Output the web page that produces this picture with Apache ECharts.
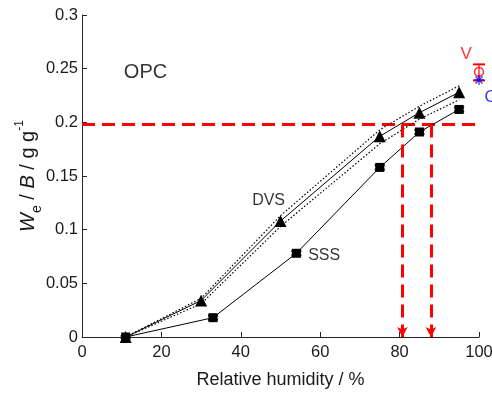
<!DOCTYPE html>
<html><head><meta charset="utf-8">
<script src="https://cdn.jsdelivr.net/npm/echarts@6/dist/echarts.min.js"></script>
<style>html,body{margin:0;padding:0;background:#fff}#c{width:492px;height:394px}</style>
</head><body><div id="c"></div>
<script>
// ---- data ----
const rhDVS = [11, 30, 50, 75, 85, 95];
const weDVS = [0, 0.034, 0.108, 0.187, 0.209, 0.228];
const weDVSUpper = [0, 0.036, 0.113, 0.193, 0.215, 0.234];
const weDVSLower = [0, 0.031, 0.103, 0.180, 0.203, 0.221];
const rhSSS = [11, 33, 54, 75, 85, 95];
const weSSS = [0, 0.018, 0.078, 0.158, 0.191, 0.212];
const errSSS = [0.001, 0.002, 0.002, 0.002, 0.002, 0.002];
const vacuum = {rh: 100, we: 0.247, lo: 0.239, hi: 0.254};
const capillary = {rh: 100, we: 0.2395};
const threshold = 0.198;
const arrowRH = [80.7, 87.9];
const xTicks = {min: 0, max: 100, step: 20};
const yTicks = {min: 0, max: 0.3, step: 0.05};
const notes = [
  {text: 'OPC', x: 16, y: 0.246, size: 20, color: '#000'},
  {text: 'DVS', x: 47, y: 0.127, size: 16, color: '#000'},
  {text: 'SSS', x: 61, y: 0.0755, size: 16, color: '#000'}
];

const F = 'Liberation Sans, Arial, sans-serif';
const TXT = '#1a1a1a';
const pair = (xs, ys) => xs.map((x, i) => [x, ys[i]]);

const chart = echarts.init(document.getElementById('c'));
const series = [];
// dotted bounds
[weDVSUpper, weDVSLower].forEach(arr => series.push({
  type: 'line', data: pair(rhDVS, arr), symbol: 'none', silent: true,
  lineStyle: {color: '#000', width: 1.2, type: [1.5, 2]}, z: 2
}));
// DVS
series.push({type: 'line', data: pair(rhDVS, weDVS), symbol: 'triangle', symbolSize: 12,
  itemStyle: {color: '#000'}, lineStyle: {color: '#000', width: 1}, z: 3});
// SSS error bars
series.push({type: 'custom', z: 3,
  renderItem: (p, api) => {
    const i = p.dataIndex;
    const a = api.coord([rhSSS[i], weSSS[i] - errSSS[i]]);
    const b = api.coord([rhSSS[i], weSSS[i] + errSSS[i]]);
    return {type: 'group', children: [
      {type: 'line', shape: {x1: a[0], y1: a[1], x2: b[0], y2: b[1]}, style: {stroke: '#000', lineWidth: 1}},
      {type: 'line', shape: {x1: a[0]-5, y1: a[1], x2: a[0]+5, y2: a[1]}, style: {stroke: '#000', lineWidth: 2}},
      {type: 'line', shape: {x1: b[0]-5, y1: b[1], x2: b[0]+5, y2: b[1]}, style: {stroke: '#000', lineWidth: 2}}
    ]};
  },
  data: rhSSS.map((x, i) => [x, weSSS[i]])
});
// SSS
series.push({type: 'line', data: pair(rhSSS, weSSS), symbol: 'rect', symbolSize: 9,
  itemStyle: {color: '#000'}, lineStyle: {color: '#000', width: 1}, z: 4});
// threshold horizontal dashed line
series.push({type: 'line', data: [[xTicks.min, threshold], [xTicks.max, threshold]], symbol: 'none',
  lineStyle: {color: '#ff0000', width: 3, type: [13, 7]}, z: 1});
// arrows
arrowRH.forEach(x => series.push({type: 'line', data: [], symbol: 'none',
  markLine: {silent: true, symbol: ['none', 'arrow'], symbolSize: [8, 10], label: {show: false},
    lineStyle: {color: '#ff0000', width: 3, type: [13, 7]},
    data: [[{coord: [x, threshold]}, {coord: [x, 0.0]}]]}
}));
// V error bar
series.push({type: 'line', data: [[vacuum.rh, vacuum.lo], [vacuum.rh, vacuum.hi]],
  symbol: 'rect', symbolSize: [12, 2], itemStyle: {color: '#ff0000'},
  lineStyle: {color: '#ff0000', width: 1.2}, z: 5});
series.push({type: 'scatter', data: [[vacuum.rh, vacuum.we]], symbol: 'circle', symbolSize: 9,
  itemStyle: {color: 'transparent', borderColor: '#ff0000', borderWidth: 1.5}, z: 6,
  label: {show: true, formatter: 'V', position: 'left', distance: 2, offset: [0, -18],
    color: '#ff0000', fontSize: 17, fontFamily: F}});
// C asterisk
series.push({type: 'scatter', data: [[capillary.rh, capillary.we]], symbol: 'path://M0,-5L0,5M-5,0L5,0M-3.5,-3.5L3.5,3.5M-3.5,3.5L3.5,-3.5',
  symbolSize: 10, itemStyle: {color: 'none', borderColor: '#0000ff', borderWidth: 1.3}, z: 6,
  label: {show: true, formatter: 'C', position: 'right', distance: -2, offset: [0, 17],
    color: '#0000ff', fontSize: 17, fontFamily: F}});
// text notes
series.push({type: 'scatter', symbolSize: 0, silent: true, z: 7,
  data: notes.map(n => ({value: [n.x, n.y], label: {show: true, position: 'inside', formatter: n.text,
    fontSize: n.size, color: n.color, fontFamily: F}}))
});

chart.setOption({
  animation: false,
  grid: {left: 82, right: 13, top: 15, bottom: 57, containLabel: false, outerBoundsMode: 'none'},
  xAxis: {type: 'value', min: xTicks.min, max: xTicks.max, interval: xTicks.step,
    name: 'Relative humidity / %', nameLocation: 'middle', nameGap: 34, nameMoveOverlap: false,
    nameTextStyle: {fontSize: 18, color: TXT, fontFamily: F},
    axisLine: {lineStyle: {color: '#262626', width: 1}},
    axisTick: {inside: true, length: 5, lineStyle: {color: '#262626'}},
    axisLabel: {fontSize: 16.5, color: TXT, fontFamily: F, margin: 7},
    splitLine: {show: false}},
  yAxis: {type: 'value', min: yTicks.min, max: yTicks.max, interval: yTicks.step,
    name: '{i|W}{s|e}{n| / }{i|B}{n| / g g}{p|-1}', nameLocation: 'middle', nameGap: 44, nameMoveOverlap: false,
    nameTextStyle: {fontSize: 19, color: TXT, fontFamily: F,
      rich: {
        i: {fontSize: 20, fontStyle: 'italic', fontFamily: F, color: TXT, lineHeight: 24, verticalAlign: 'bottom'},
        n: {fontSize: 20, fontFamily: F, color: TXT, lineHeight: 24, verticalAlign: 'bottom'},
        s: {fontSize: 14, fontFamily: F, color: TXT, lineHeight: 14, verticalAlign: 'bottom', padding: [0, 0, -6, 0]},
        p: {fontSize: 12, fontFamily: F, color: TXT, lineHeight: 12, verticalAlign: 'top'}
      }},
    axisLine: {show: true, lineStyle: {color: '#262626', width: 1}},
    axisTick: {inside: true, length: 5, lineStyle: {color: '#262626'}},
    axisLabel: {fontSize: 16.5, color: TXT, fontFamily: F, margin: 4},
    splitLine: {show: false}},
  series: series
});
</script></body></html>
